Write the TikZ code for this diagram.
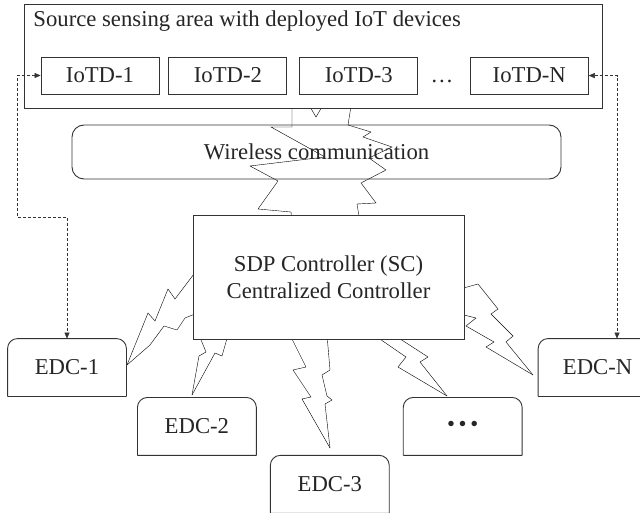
\documentclass[tikz,border=0pt]{standalone}
\usepackage{fontspec}
\setmainfont{Liberation Serif}
\usetikzlibrary{positioning,arrows.meta,calc}
\pgfdeclarelayer{background}
\pgfsetlayers{background,main}
\tikzset{
    area/.style = {
        draw,
        fill = white,
        minimum width=578pt,
        minimum height=104pt,
        },
    iotd/.style = {
        draw,
        fill = white,
        inner sep=0pt,
        minimum width=118pt,
        minimum height=37pt,
        },
    wireless/.style = {
        draw,
        rounded corners=12pt,
        minimum width=489pt,
        minimum height=54pt,
        },
    controller/.style = {
        draw,
        fill = white,
        align = center,
        minimum width=271pt,
        minimum height=124pt,
        },
    edc/.style = {
        fill = white,
        inner sep=0pt,
        minimum width=118pt,
        minimum height=57pt,
        },
    edc frame/.style = {
        rounded corners=10pt,
        },
    bolt/.style = {
        line join=miter,
        },
    link/.style = {
        dash pattern=on 3pt off 2pt,
        {Triangle[length=6pt,width=5pt]}-{Triangle[length=6pt,width=5pt]},
        },
}

\begin{document}
\begin{tikzpicture}[x=1pt, y=-1pt, line width=0.9pt, draw=black!80, text=black!85,
        font=\fontsize{22.7}{27}\selectfont]
    \useasboundingbox (0,0) rectangle (640,513);

    % sensing area with the IoT devices
    \node[area] (area) at (313,56) {};
    \node[anchor=base west, inner sep=0pt] (title) at (33,27) {Source sensing area with deployed IoT devices};
    \node[iotd] (iot1) at (100,75.5) {IoTD-1};
    \node[iotd, right=9pt of iot1] (iot2) {IoTD-2};
    \node[iotd, right=12pt of iot2] (iot3) {IoTD-3};
    \node[base right=12pt of iot3, inner sep=0pt] (idots) {\dots};
    \node[iotd, base right=16pt of idots] (iotN) {IoTD-N};

    \node[wireless] (wcomm) at (316.5,152) {Wireless communication};

    \node[controller] (sc) at (328.5,277) {SDP Controller (SC)\\Centralized Controller};

    % edge data centres
    \node[edc] (edc1) at (67,367.5) {EDC-1};
    \node[edc, below right=1pt and 11pt of edc1] (edc2) {EDC-2};
    \node[edc, below right=0pt and 14pt of edc2] (edc3) {EDC-3};
    \node[edc, above right=0pt and 14pt of edc3] (edcdots) {\textbullet\,\textbullet\,\textbullet};
    \node[edc, above right=1pt and 16pt of edcdots] (edcN) {EDC-N};
    \foreach \e in {edc1,edc2,edc3,edcdots,edcN}
        \draw[edc frame] (\e.south west) -- (\e.north west) -- (\e.north east) -- (\e.south east)
            (\e.south west) -- (\e.south east);

    % lightning bolts
    \begin{pgfonlayer}{background}
        \draw[bolt] (292,100) -- (292,127) -- (271,127) -- (325,157) -- (250,166) -- (278,181)
            -- (258,209) -- (291,212) -- (292,222);
        \draw[bolt] (352,100) -- (348,125) -- (371,132) -- (363,137) -- (392,147) -- (369,158)
            -- (386,170) -- (361,183) -- (376,203) -- (357,204) -- (360,222);
        \draw[bolt] (306,100) -- (316,117) -- (326,100);

        \draw[bolt] (200,266) -- (175,299) -- (168,289) -- (155,321) -- (148,313) -- (127,365);
        \draw[bolt] (200,312) -- (185,318) -- (177,330) -- (164,326) -- (150,345) -- (127,365);

        \draw[bolt] (199,335) -- (206,352) -- (199,356) -- (192,395);
        \draw[bolt] (228,335) -- (222,356) -- (215,353) -- (192,395);

        \draw[bolt] (290,335) -- (306,367) -- (293,370) -- (311,397) -- (302,399) -- (330,448);
        \draw[bolt] (327,335) -- (330,370) -- (322,375) -- (327,396) -- (332,400) -- (325,404) -- (330,448);

        \draw[bolt] (374,335) -- (406,357) -- (398,367) -- (447,396);
        \draw[bolt] (394,335) -- (428,357) -- (420,362) -- (447,396);

        \draw[bolt] (460,289) -- (478,284) -- (498,309) -- (491,314) -- (513,336) -- (506,342) -- (533,375);
        \draw[bolt] (460,314) -- (476,318) -- (466,326) -- (494,342) -- (486,347) -- (533,375);
    \end{pgfonlayer}

    % dashed links
    \coordinate (lturn) at (17,217);
    \coordinate (rdrop) at (617,0);
    \draw[link] (iot1.west) -| (lturn) -| (edc1.north);
    \draw[link] (iotN.east) -| (rdrop |- edcN.north);
\end{tikzpicture}
\end{document}
